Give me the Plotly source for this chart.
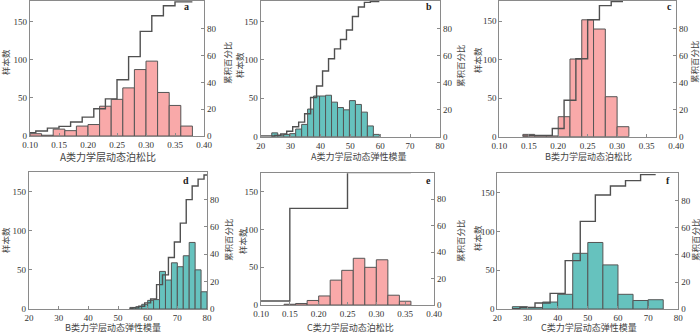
import plotly.graph_objects as go

# ===== 1. data =====
poisson_ticks = [0.10, 0.15, 0.20, 0.25, 0.30, 0.35, 0.40]
modulus_ticks = [20, 30, 40, 50, 60, 70, 80]
count_ticks = [0, 50, 100, 150]
pct_ticks = [0, 20, 40, 60, 80]

# a  A类力学层动态泊松比
a_edge0, a_binw = 0.10, 0.02
a_counts = [3, 1, 9, 7, 13, 15, 39, 48, 63, 87, 98, 57, 40, 13]
a_cum_start, a_cum_end = 0.10, 0.38
a_cum_pct = [2.5, 3.7, 5.9, 7.2, 10.4, 14.1, 20.3, 27.7, 41.9, 59.2, 78.0, 89.7, 97.1, 100, 100]

# b  A类力学层动态弹性模量
b_edge0, b_binw = 23.7, 2.0
b_counts = [5, 2, 3, 4, 10, 16, 36, 53, 53, 54, 45, 38, 35, 47, 42, 32, 14, 3]
b_cum_start, b_cum_end = 20.0, 59.7
b_cum_pct = [0.5, 1, 2, 4, 7.4, 10.8, 17, 29, 37.5, 48.6, 57.7, 65, 72, 79, 89, 96, 99.4, 100, 100]

# c  B类力学层动态泊松比
c_edge0, c_binw = 0.14, 0.02
c_counts = [3, 1, 1, 26, 101, 152, 140, 52, 13]
c_cum_start, c_cum_end = 0.14, 0.31
c_cum_pct = [0.5, 1, 1, 6.1, 27, 57.7, 86.6, 97, 100, 100]

# d  B类力学层动态弹性模量
d_edge0, d_binw = 54.0, 2.0
d_counts = [2, 3, 6, 11, 12, 48, 37, 59, 54, 68, 85, 50, 22]
d_cum_start, d_cum_end = 54.0, 80.0
d_cum_pct = [0.3, 0.8, 2, 4.5, 7.3, 17.8, 25, 37.7, 49, 62.8, 80, 90, 95, 98]

# e  C类力学层动态泊松比
e_edge0, e_binw = 0.14, 0.02
e_counts = [1, 2, 6, 12, 33, 46, 62, 50, 60, 13, 5]
e_cum_start, e_cum_end = 0.10, 0.36
e_cum_pct = [3, 73, 73, 73, 73, 73, 100, 100, 100, 100, 100, 100]

# f  C类力学层动态弹性模量
f_edge0, f_binw = 25.0, 5.0
f_counts = [3, 2, 9, 19, 72, 86, 57, 19, 11, 12]
f_cum_start, f_cum_end = 25.0, 72.5
f_cum_pct = [0.3, 1.2, 4.4, 11.6, 35.8, 64.9, 84.4, 91.1, 95.1, 99.5, 99.5]

x_titles = ['A类力学层动态泊松比', 'A类力学层动态弹性模量', 'B类力学层动态泊松比',
            'B类力学层动态弹性模量', 'C类力学层动态泊松比', 'C类力学层动态弹性模量']
panel_letters = ['a', 'b', 'c', 'd', 'e', 'f']

# ===== 2. panel setup =====
PINK = '#F9A9A9'
TEAL = '#66C2BE'
W, H = 700, 333

panels = [
    dict(edge0=a_edge0, binw=a_binw, counts=a_counts, cs=a_cum_start, ce=a_cum_end, cum=a_cum_pct,
         color=PINK, xr=[0.10, 0.40], xt=poisson_ticks, fmt='.2f', ymax=177, pmax=100.8,
         box=(30, 204, 0.8, 136), lt=(5, 62), rt=(227, 63), xt_pos=(108, 156), xt_size=10, let=(186, 7)),
    dict(edge0=b_edge0, binw=b_binw, counts=b_counts, cs=b_cum_start, ce=b_cum_end, cum=b_cum_pct,
         color=TEAL, xr=[20, 80], xt=modulus_ticks, fmt='d', ymax=177, pmax=100.6,
         box=(260.7, 440, 0.8, 136.7), lt=(239, 65), rt=(460, 66), xt_pos=(358, 156), xt_size=9, let=(429, 7)),
    dict(edge0=c_edge0, binw=c_binw, counts=c_counts, cs=c_cum_start, ce=c_cum_end, cum=c_cum_pct,
         color=PINK, xr=[0.10, 0.40], xt=poisson_ticks, fmt='.2f', ymax=176.7, pmax=100.6,
         box=(499.3, 676, 0.8, 136.7), lt=(477, 60), rt=(694, 62), xt_pos=(588, 156), xt_size=9, let=(669, 7)),
    dict(edge0=d_edge0, binw=d_binw, counts=d_counts, cs=d_cum_start, ce=d_cum_end, cum=d_cum_pct,
         color=TEAL, xr=[20, 80], xt=modulus_ticks, fmt='d', ymax=174.6, pmax=100,
         box=(29, 207, 172.3, 309), lt=(5, 240), rt=(228, 240), xt_pos=(113, 327.5), xt_size=9, let=(186, 180)),
    dict(edge0=e_edge0, binw=e_binw, counts=e_counts, cs=e_cum_start, ce=e_cum_end, cum=e_cum_pct,
         color=PINK, xr=[0.10, 0.40], xt=poisson_ticks, fmt='.2f', ymax=174.8, pmax=99.5,
         box=(261, 434, 173.3, 305), lt=(242, 241), rt=(460, 241), xt_pos=(350, 327), xt_size=9, let=(428, 180)),
    dict(edge0=f_edge0, binw=f_binw, counts=f_counts, cs=f_cum_start, ce=f_cum_end, cum=f_cum_pct,
         color=TEAL, xr=[20, 80], xt=modulus_ticks, fmt='d', ymax=175.4, pmax=100.5,
         box=(497.3, 678.3, 173.3, 309), lt=(477, 238), rt=(695, 240), xt_pos=(589, 327.5), xt_size=9, let=(668, 180)),
]

TICKFONT = dict(family='Liberation Serif', size=9, color='#333')
AXCOL = '#8a8a8a'
CJK = 'Noto Sans CJK SC'

fig = go.Figure()
layout = {}
annotations = []

for i, p in enumerate(panels):
    n = i + 1
    xa = 'x' if n == 1 else f'x{n}'
    yl_n, yr_n = 2 * n - 1, 2 * n
    yl = 'y' if yl_n == 1 else f'y{yl_n}'
    yr = f'y{yr_n}'

    centers = [p['edge0'] + p['binw'] * (k + 0.5) for k in range(len(p['counts']))]
    fig.add_trace(go.Bar(
        x=centers, y=p['counts'], width=p['binw'],
        marker=dict(color=p['color'], line=dict(color='#555555', width=1)),
        xaxis=xa, yaxis=yl, showlegend=False
    ))
    fig.add_trace(go.Scatter(
        x=[p['cs']] + centers + [p['ce']], y=p['cum'] + [p['cum'][-1]],
        mode='lines', line=dict(shape='hv', color='#505050', width=1.4),
        xaxis=xa, yaxis=yr, showlegend=False
    ))

    x0, x1, y0, y1 = p['box']
    xdom = [x0 / W, x1 / W]
    ydom = [1 - y1 / H, 1 - y0 / H]
    xkey = 'xaxis' if n == 1 else f'xaxis{n}'
    ylkey = 'yaxis' if yl_n == 1 else f'yaxis{yl_n}'
    yrkey = f'yaxis{yr_n}'
    common = dict(showline=True, linecolor=AXCOL, linewidth=1.2, ticks='inside', ticklen=3,
                  tickcolor=AXCOL, showgrid=False, zeroline=False, tickfont=TICKFONT, automargin=False)
    layout[xkey] = dict(domain=xdom, anchor=yl, range=p['xr'], tickvals=p['xt'], tickformat=p['fmt'],
                        mirror=True, **common)
    layout[ylkey] = dict(domain=ydom, anchor=xa, range=[0, p['ymax']], tickvals=count_ticks, **common)
    layout[yrkey] = dict(domain=ydom, anchor=xa, overlaying=yl, side='right', range=[0, p['pmax']],
                         tickvals=pct_ticks, **common)

    annotations.append(dict(text='样本数', x=p['lt'][0] / W, y=1 - p['lt'][1] / H, xref='paper', yref='paper',
                            textangle=-90, showarrow=False, xanchor='center', yanchor='middle',
                            font=dict(family=CJK, size=8.5, color='#444')))
    annotations.append(dict(text='累积百分比', x=p['rt'][0] / W, y=1 - p['rt'][1] / H, xref='paper', yref='paper',
                            textangle=-90, showarrow=False, xanchor='center', yanchor='middle',
                            font=dict(family=CJK, size=8.5, color='#444')))
    annotations.append(dict(text=x_titles[i], x=p['xt_pos'][0] / W, y=1 - p['xt_pos'][1] / H,
                            xref='paper', yref='paper', showarrow=False, xanchor='center', yanchor='middle',
                            font=dict(family=CJK, size=p['xt_size'], color='#444')))
    annotations.append(dict(text='<b>' + panel_letters[i] + '</b>', x=p['let'][0] / W, y=1 - p['let'][1] / H,
                            xref='paper', yref='paper', showarrow=False, xanchor='center', yanchor='middle',
                            font=dict(family='Liberation Serif', size=10, color='#222')))

layout['annotations'] = annotations
fig.update_layout(**layout)
fig.update_layout(
    width=W, height=H,
    margin=dict(l=0, r=0, t=0, b=0, autoexpand=False),
    paper_bgcolor='white', plot_bgcolor='white',
    barmode='overlay', showlegend=False
)

# page body has a default 8px margin; drop it so the figure sits at the window's corner
fig.write_html("out.html", config={'displayModeBar': False},
               post_script="document.body.style.margin='0px';")
